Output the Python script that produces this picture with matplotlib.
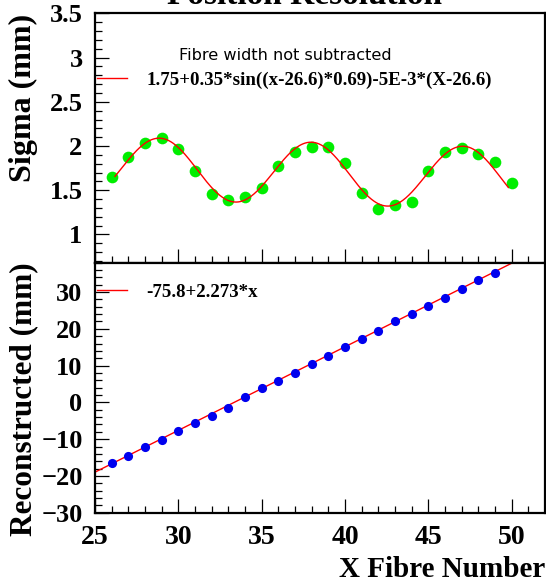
"""Position resolution / reconstructed position vs X fibre number (two stacked panels)."""
import numpy as np
import matplotlib
matplotlib.use("Agg")
import matplotlib.pyplot as plt
from matplotlib.ticker import MultipleLocator

# --- data ---
fibre_sigma = list(range(26, 51))
sigma_mm = [1.654, 1.880, 2.038, 2.095, 1.963, 1.717, 1.454, 1.389, 1.428, 1.529,
            1.774, 1.937, 1.993, 1.993, 1.804, 1.473, 1.284, 1.329, 1.367, 1.717,
            1.937, 1.974, 1.906, 1.824, 1.578]

fibre_reco = list(range(26, 50))
reco_mm = [-16.5, -14.5, -12.2, -10.2, -7.9, -5.7, -3.6, -1.6, 1.35, 3.8,
           5.7, 7.9, 10.4, 12.6, 15.0, 17.2, 19.3, 22.2, 24.1, 26.3,
           28.4, 30.8, 33.2, 35.3]

# fit parameters as quoted in the legends
sin_p0, sin_amp, sin_x0, sin_k, sin_slope = 1.75, 0.35, 26.6, 0.69, -5e-3
sin_range = (26.2, 49.8)
lin_a, lin_b = -75.8, 2.273
lin_range = (25.0, 50.1)

sin_label = "1.75+0.35*sin((x-26.6)*0.69)-5E-3*(X-26.6)"
lin_label = "-75.8+2.273*x"
header = "Fibre width not subtracted"

SERIF = "Liberation Serif"
RED, GREEN, BLUE = "#FF0000", "#00EE00", "#0000EE"

plt.rcParams.update({
    "font.family": SERIF, "font.weight": "bold",
    "axes.linewidth": 1.6,
})

fig = plt.figure(figsize=(5.46, 5.85), dpi=100)
ax1 = fig.add_axes([0.174, 0.551, 0.8242, 0.426])
ax2 = fig.add_axes([0.174, 0.1236, 0.8242, 0.4274])


def style(ax, ymajor, yminor, ylim, xlabels):
    ax.set_xlim(25, 52)
    ax.set_ylim(*ylim)
    ax.xaxis.set_major_locator(MultipleLocator(5))
    ax.xaxis.set_minor_locator(MultipleLocator(1))
    ax.yaxis.set_major_locator(MultipleLocator(ymajor))
    ax.yaxis.set_minor_locator(MultipleLocator(yminor))
    ax.tick_params(which="both", direction="in", top=False, right=False, width=0.9)
    ax.tick_params(which="major", length=10)
    ax.tick_params(which="minor", length=5)
    ax.tick_params(axis="y", labelsize=19, pad=9)
    ax.tick_params(axis="x", labelsize=20, pad=9, labelbottom=xlabels)
    for lab in ax.get_xticklabels() + ax.get_yticklabels():
        lab.set_fontweight("bold")


legend_kw = dict(loc="center left", frameon=False, borderpad=0, borderaxespad=0,
                 handlelength=1.6, handletextpad=1.0,
                 prop={"family": SERIF, "weight": "bold", "size": 13.6})

# top panel: sigma
style(ax1, 0.5, 0.1, (0.68, 3.5), False)
ax1.set_yticks([1, 1.5, 2, 2.5, 3, 3.5])
ax1.set_yticklabels(["1", "1.5", "2", "2.5", "3", "3.5"])
xs = np.linspace(*sin_range, 400)
ax1.plot(xs, sin_p0 + sin_amp * np.sin((xs - sin_x0) * sin_k) + sin_slope * (xs - sin_x0),
         color=RED, lw=1.0, label=sin_label, zorder=3)
ax1.plot(fibre_sigma, sigma_mm, "o", color=GREEN, ms=8.4, mec="none", zorder=2)
ax1.text(0.187, 0.833, header, transform=ax1.transAxes, family="DejaVu Sans",
         fontweight="normal", fontsize=11.6, va="center", ha="left")
ax1.legend(bbox_to_anchor=(0.0044, 0.733), **legend_kw)
ax1.set_ylabel("Sigma (mm)", loc="top", fontsize=23, fontweight="bold")
ax1.yaxis.set_label_coords(-0.127, 1.0)

# bottom panel: reconstructed position
style(ax2, 10, 2, (-30, 38), True)
xl = np.linspace(*lin_range, 50)
ax2.plot(xl, lin_a + lin_b * xl, color=RED, lw=1.0, label=lin_label, zorder=2)
ax2.plot(fibre_reco, reco_mm, "o", color=BLUE, ms=6.6, mec="none", zorder=3)
ax2.legend(bbox_to_anchor=(0.0044, 0.881), **legend_kw)
ax2.set_ylabel("Reconstructed (mm)", loc="top", fontsize=22.5, fontweight="bold")
ax2.yaxis.set_label_coords(-0.127, 1.0)
ax2.set_xlabel("X Fibre Number", loc="right", fontsize=21, fontweight="bold")
ax2.xaxis.set_label_coords(1.0, -0.172)

# title sits mostly above the canvas, as in the original export
fig.text(0.557, 1 - 4 / 585, "Position Resolution", ha="center", va="baseline",
         fontsize=24, fontweight="bold", family=SERIF)

fig.savefig("out.png", dpi=100, facecolor="white")
